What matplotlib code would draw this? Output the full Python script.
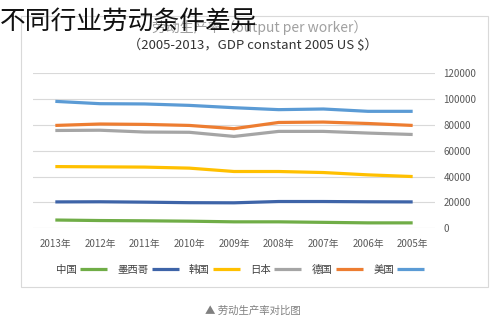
import matplotlib
matplotlib.use("Agg")
import matplotlib.pyplot as plt
from matplotlib.patches import Rectangle

plt.rcParams['font.family'] = ['Noto Sans CJK SC', 'DejaVu Sans']

# data (output per worker, constant 2005 US$)
years = ['2013年', '2012年', '2011年', '2010年', '2009年',
         '2008年', '2007年', '2006年', '2005年']
usa = [98100, 96300, 96100, 95000, 93200, 91700, 92200, 90400, 90400]
germany = [79500, 80600, 80300, 79500, 77000, 81800, 82100, 81000, 79500]
japan = [75600, 75800, 74400, 74200, 71000, 74900, 74900, 73600, 72500]
korea = [47700, 47500, 47300, 46500, 43900, 43900, 43100, 41300, 40000]
mexico = [20400, 20500, 20200, 19800, 19700, 20700, 20700, 20500, 20400]
china = [6400, 6000, 5800, 5500, 5000, 5000, 4600, 4200, 4200]
yticks = [0, 20000, 40000, 60000, 80000, 100000, 120000]

series = [('美国', usa, '#5B9BD5'),
          ('德国', germany, '#ED7D31'),
          ('日本', japan, '#A5A5A5'),
          ('韩国', korea, '#FFC000'),
          ('墨西哥', mexico, '#3E64A8'),
          ('中国', china, '#70AD47')]

fig = plt.figure(figsize=(5, 3.35), dpi=100)
fig.patch.set_facecolor('white')

# chart frame
fig.patches.append(Rectangle((0.042, 0.143), 0.934, 0.81, transform=fig.transFigure,
                             fill=False, edgecolor='#D9D9D9', linewidth=0.8))

ax = fig.add_axes([0.066, 0.3185, 0.804, 0.4635])
x = list(range(len(years)))
handles = {}
for name, vals, col in series:
    ln, = ax.plot(x, vals, color=col, linewidth=2.3, label=name, solid_capstyle='butt')
    handles[name] = ln

ax.set_xlim(-0.5, 8.5)
ax.set_ylim(0, 120000)
ax.set_yticks(yticks)
ax.set_yticklabels([str(v) for v in yticks])
ax.yaxis.tick_right()
ax.set_xticks(x)
ax.set_xticklabels(years)
ax.tick_params(axis='both', length=0, labelsize=7, colors='#595959')
ax.tick_params(axis='y', pad=6)
ax.tick_params(axis='x', pad=8)
ax.grid(axis='y', color='#D9D9D9', linewidth=0.8)
ax.set_axisbelow(True)
for s in ax.spines.values():
    s.set_visible(False)

order = ['中国', '墨西哥', '韩国', '日本', '德国', '美国']
fig.legend([handles[n] for n in order], order, loc='center', ncol=6,
           bbox_to_anchor=(0.48, 0.195), frameon=False, fontsize=7.5,
           markerfirst=False, handlelength=2.6, columnspacing=1.0,
           handletextpad=0.3, labelcolor='#404040')

fig.text(0.52, 0.918, '劳动生产率（output per worker）', ha='center', va='center',
         fontsize=10, color='#A0A0A0')
fig.text(0.505, 0.866, '（2005-2013，GDP constant 2005 US $）', ha='center',
         va='center', fontsize=9.5, color='#333333')

fig.text(0.0, 0.935, '不同行业劳动条件差异', ha='left', va='center',
         fontsize=18.5, color='#111111')

fig.text(0.505, 0.072, '▲ 劳动生产率对比图', ha='center', va='center',
         fontsize=7.5, color='#808080')

fig.savefig('out.png', dpi=100)
plt.close()
